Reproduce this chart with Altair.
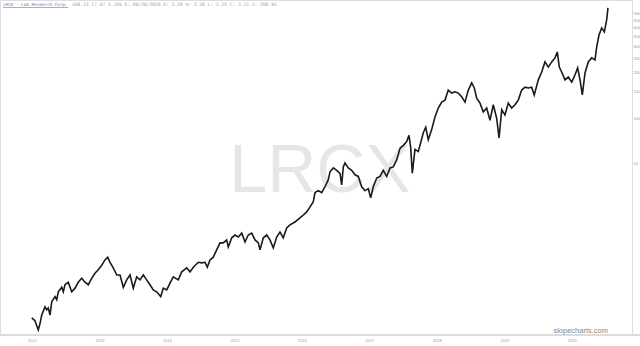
import altair as alt
import pandas as pd

# decimal-year dates and closing prices
years = [2011.996, 2012.044, 2012.093, 2012.119, 2012.144, 2012.193, 2012.218, 2012.241, 2012.267, 2012.292,
         2012.341, 2012.366, 2012.390, 2012.440, 2012.464, 2012.489, 2012.538, 2012.588, 2012.637, 2012.686,
         2012.736, 2012.785, 2012.834, 2012.884, 2012.933, 2012.982, 2013.033, 2013.081, 2013.121, 2013.156,
         2013.204, 2013.255, 2013.304, 2013.353, 2013.403, 2013.452, 2013.501, 2013.551, 2013.600, 2013.649,
         2013.699, 2013.748, 2013.797, 2013.847, 2013.907, 2013.945, 2013.996, 2014.044, 2014.093, 2014.167,
         2014.218, 2014.292, 2014.341, 2014.390, 2014.464, 2014.514, 2014.563, 2014.597, 2014.637, 2014.686,
         2014.736, 2014.785, 2014.834, 2014.884, 2014.908, 2014.959, 2015.007, 2015.056, 2015.107, 2015.156,
         2015.204, 2015.255, 2015.304, 2015.353, 2015.378, 2015.427, 2015.477, 2015.526, 2015.575, 2015.625,
         2015.674, 2015.723, 2015.773, 2015.822, 2015.896, 2015.970, 2016.019, 2016.070, 2016.119, 2016.167,
         2016.193, 2016.241, 2016.292, 2016.341, 2016.390, 2016.415, 2016.464, 2016.514, 2016.563, 2016.588,
         2016.612, 2016.637, 2016.686, 2016.736, 2016.785, 2016.834, 2016.884, 2016.933, 2016.982, 2017.018,
         2017.056, 2017.107, 2017.156, 2017.204, 2017.255, 2017.304, 2017.353, 2017.403, 2017.452, 2017.501,
         2017.551, 2017.585, 2017.610, 2017.634, 2017.674, 2017.723, 2017.763, 2017.797, 2017.833, 2017.871,
         2017.921, 2017.970, 2018.019, 2018.070, 2018.119, 2018.167, 2018.218, 2018.267, 2018.316, 2018.366,
         2018.415, 2018.464, 2018.514, 2018.553, 2018.588, 2018.637, 2018.686, 2018.736, 2018.785, 2018.834,
         2018.884, 2018.919, 2018.959, 2019.007, 2019.056, 2019.107, 2019.156, 2019.204, 2019.255, 2019.304,
         2019.353, 2019.403, 2019.441, 2019.501, 2019.551, 2019.600, 2019.649, 2019.699, 2019.748, 2019.782,
         2019.812, 2019.847, 2019.896, 2019.945, 2019.996, 2020.044, 2020.084, 2020.119, 2020.153, 2020.193,
         2020.241, 2020.292, 2020.341, 2020.366, 2020.400, 2020.440, 2020.479, 2020.514, 2020.533]

prices = [4.7, 4.5, 3.9, 4.3, 4.9, 5.55, 5.3, 5.46, 4.9, 6.0,
          6.5, 6.2, 7.0, 7.5, 7.0, 7.8, 8.1, 7.0, 7.4, 8.1,
          8.6, 8.1, 7.8, 8.6, 9.3, 9.8, 10.5, 11.4, 11.9, 11.0,
          10.1, 9.05, 9.05, 7.5, 8.4, 9.05, 7.4, 8.8, 8.4, 9.05,
          8.4, 7.8, 7.2, 7.0, 6.5, 7.4, 7.2, 8.0, 8.8, 8.4,
          9.5, 10.1, 9.5, 10.2, 11.0, 10.9, 11.0, 10.2, 11.4, 11.9,
          13.3, 14.8, 14.8, 15.5, 13.9, 16.0, 16.7, 16.2, 17.2, 15.0,
          16.7, 17.2, 15.5, 14.8, 13.3, 16.0, 16.7, 15.5, 13.7, 16.2,
          17.5, 16.0, 18.6, 19.5, 20.4, 21.7, 22.7, 23.8, 25.7, 27.7,
          32, 33, 32, 35, 39, 44, 46.7, 45, 43, 36,
          47.4, 50.4, 46.7, 45, 42, 41, 35, 33, 34, 29.5,
          35, 40, 41, 45, 41, 46.7, 47.4, 52.8, 63, 66,
          70, 77, 64, 43, 62, 60, 70, 80, 87, 72,
          84, 102, 117, 128, 132, 154, 147, 150, 147, 139,
          128, 154, 172, 159, 136, 126, 110, 117, 97, 123,
          100, 74, 114, 105, 126, 117, 123, 132, 154, 161,
          159, 161, 143, 180, 203, 237, 219, 237, 252, 276,
          219, 203, 180, 188, 174, 194, 216, 180, 143, 200,
          237, 252, 244, 298, 358, 399, 375, 451, 542]

year_ticks = [2012, 2013, 2014, 2015, 2016, 2017, 2018, 2019, 2020]
price_ticks = [50, 100, 150, 200, 250, 300, 350, 400, 450, 500]

ticker = "LRCX"
header_name = "LRCX - Lam Research Corp."
header_info = "348.33 17.07 5.16% D: 08/28/2020 O: 3.29 H: 3.38 L: 3.25 C: 3.11 V: 208.95"
brand = "slopecharts.com"

df = pd.DataFrame({"year": years, "price": prices})

W, H = 632, 335

base = alt.Chart(df)

watermark = alt.Chart(pd.DataFrame({"t": [ticker]})).mark_text(
    font="Liberation Sans", fontSize=68, color="#e6e6e6", align="center", baseline="alphabetic"
).encode(x=alt.value(320), y=alt.value(192), text="t:N")

line = base.mark_line(color="#1a1a1a", strokeWidth=1.6, strokeJoin="miter").encode(
    x=alt.X("year:Q",
            scale=alt.Scale(domain=[2011.526, 2020.889], nice=False, zero=False),
            axis=alt.Axis(values=year_ticks, format="d", labelFontSize=4, labelColor="#9a9a9a",
                          ticks=False, domain=False, grid=False, labelPadding=3),
            title=None),
    y=alt.Y("price:Q",
            scale=alt.Scale(type="log", domain=[3.61, 612], nice=False, zero=False),
            axis=alt.Axis(orient="right", values=price_ticks, format="d", labelFontSize=4,
                          labelColor="#9a9a9a", ticks=False, domain=False, grid=False,
                          labelPadding=1),
            title=None),
)

baseline_rule = alt.Chart(pd.DataFrame({"a": [0]})).mark_rule(color="#dcdcdc", strokeWidth=2).encode(
    x=alt.value(0), x2=alt.value(640), y=alt.value(335)
)

hdr1 = alt.Chart(pd.DataFrame({"t": [header_name]})).mark_text(
    font="DejaVu Sans Mono", fontSize=4.3, color="#6b6bd6", align="left", baseline="middle"
).encode(x=alt.value(3), y=alt.value(5), text="t:N")

hdr_ul = alt.Chart(pd.DataFrame({"a": [0]})).mark_rule(color="#6b6bd6", strokeWidth=0.6).encode(
    x=alt.value(3), x2=alt.value(68), y=alt.value(7.5)
)

hdr2 = alt.Chart(pd.DataFrame({"t": [header_info]})).mark_text(
    font="DejaVu Sans Mono", fontSize=4.6, color="#a0a0a0", align="left", baseline="middle"
).encode(x=alt.value(72), y=alt.value(5), text="t:N")

brand_txt = alt.Chart(pd.DataFrame({"t": [brand]})).mark_text(
    font="Liberation Sans", fontSize=7.5, color="#858585", align="right", baseline="alphabetic"
).encode(x=alt.value(608), y=alt.value(333), text="t:N")

chart = alt.layer(watermark, baseline_rule, line, hdr1, hdr_ul, hdr2, brand_txt).properties(
    width=W, height=H,
    padding={"left": 0, "top": 0, "right": 8, "bottom": 11},
    autosize=alt.AutoSizeParams(type="none"),
).configure_view(stroke=None).configure(background="white")

chart.save("out.html", embed_options={"renderer": "svg", "actions": False})
